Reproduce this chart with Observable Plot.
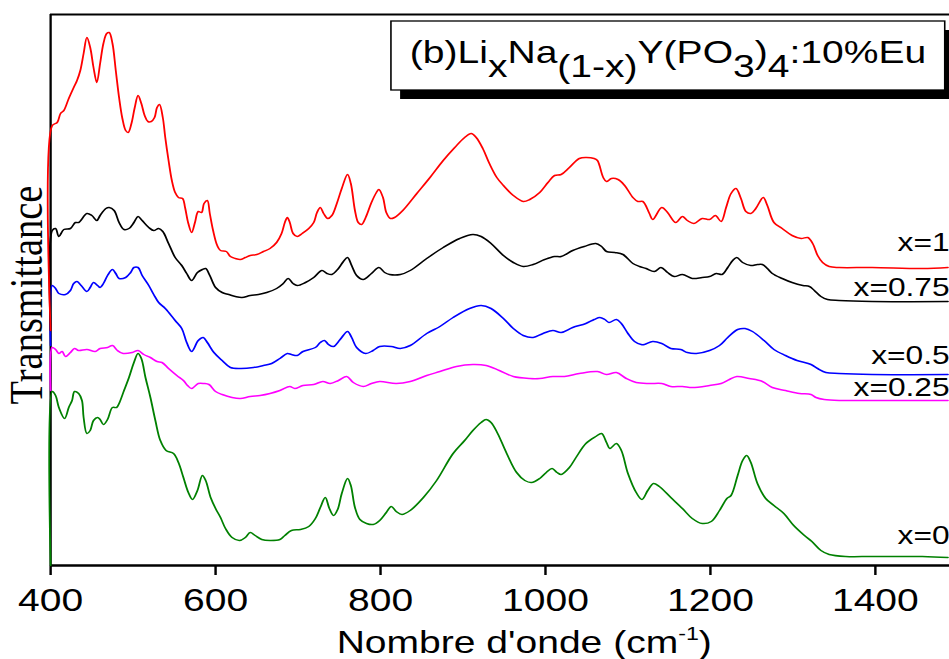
<!DOCTYPE html>
<html><head><meta charset="utf-8">
<script src="https://cdn.jsdelivr.net/npm/d3@7"></script>
<script src="https://cdn.jsdelivr.net/npm/@observablehq/plot@0.6"></script>
<style>html,body{margin:0;padding:0;background:#fff;} #chart{width:949px;height:659px;overflow:hidden;}</style>
</head><body><div id="chart"></div>
<script>
// Wavenumbers (cm^-1) and transmittance (arbitrary units)
const wnX1 = [400,402,408,412,416,422,428,432,436,440,444,448,452,456,460,464,468,471,475,479,483,487,491,494,498,502,506,510,514,518,522,526,529,532,536,539,543,547,551,555,560,563,567,571,575,579,583,586,590,593,597,602,606,613,618,624,630,636,642,650,658,666,674,680,684,687,690,694,699,705,713,719,723,727,731,736,741,747,753,760,764,769,773,777,782,789,795,798,803,807,812,817,827,844,860,876,890,902,910,916,924,932,941,949,961,973,981,993,1003,1011,1019,1029,1041,1049,1059,1063,1070,1074,1080,1088,1096,1106,1112,1118,1126,1130,1141,1148,1158,1166,1172,1180,1190,1199,1206,1213,1219,1225,1231,1237,1243,1249,1255,1264,1269,1277,1287,1299,1310,1318,1324,1330,1336,1344,1356,1396,1457,1488];
const tX1 = [235,440,443,452,455,467,478,485,495,512,528,518,498,483,502,522,532,533,522,495,468,447,435,433,442,458,470,462,450,444,444,448,458,461,448,428,405,385,373,368,367,358,342,333,343,354,353,362,365,352,335,320,315,314,309,307,306,308,310,311,314,317,323,332,343,348,343,332,329,332,337,343,353,358,352,347,350,362,377,391,382,355,343,341,348,363,373,376,368,353,347,348,355,372,388,405,418,428,432,428,417,402,388,380,370,364,366,373,383,390,391,398,407,408,407,405,388,384,387,386,380,368,364,364,352,346,358,353,343,349,345,342,347,346,350,344,358,372,377,367,354,352,357,368,360,343,337,330,327,328,322,310,303,299,298,298,297,298];

const wnX075 = [400,402,406,410,416,424,430,434,444,450,456,460,467,471,477,483,489,495,501,506,511,519,525,531,536,543,551,559,565,571,578,584,588,593,600,608,616,624,632,642,652,662,674,682,688,694,699,709,719,729,735,741,749,755,760,765,771,779,789,798,805,811,824,836,856,876,896,912,922,934,949,961,973,985,999,1011,1019,1033,1047,1061,1068,1074,1084,1094,1106,1114,1122,1132,1140,1148,1156,1166,1178,1190,1199,1207,1214,1221,1227,1232,1239,1249,1257,1263,1269,1275,1287,1299,1312,1320,1326,1334,1342,1356,1396,1488];
const tX075 = [235,335,337,329,336,337,343,343,352,350,345,350,357,358,355,343,336,337,343,349,345,338,335,337,334,322,308,300,292,285,293,296,297,290,278,273,271,269,268,270,271,273,277,282,287,282,280,283,288,295,292,291,297,304,308,300,290,286,292,298,293,291,291,295,307,318,327,331,329,322,310,303,299,301,306,309,309,315,319,322,319,314,313,311,302,299,297,294,298,293,289,291,287,288,289,292,291,298,305,308,303,300,301,301,297,292,287,283,280,279,275,269,266,265,264,264];

const wnX05 = [400,402,406,410,418,424,428,432,437,444,448,452,457,460,464,469,475,479,483,491,497,501,506,511,519,525,531,539,551,559,565,571,579,585,590,598,608,618,630,646,658,668,678,687,692,699,706,721,727,732,737,743,751,760,765,771,782,791,799,813,824,836,856,872,888,908,922,934,949,961,973,985,997,1009,1019,1033,1049,1059,1066,1072,1077,1086,1092,1100,1108,1116,1120,1130,1141,1152,1164,1172,1183,1199,1211,1221,1233,1242,1251,1265,1277,1291,1305,1322,1330,1340,1356,1396,1488];
const tX05 = [220,280,277,272,271,275,282,284,280,274,278,283,280,278,282,290,296,292,287,288,293,298,298,290,280,271,263,257,245,237,223,214,225,228,223,213,205,198,197,198,200,202,207,212,211,210,214,218,223,225,221,219,226,234,228,218,212,215,219,219,217,220,232,239,248,257,260,257,247,237,230,228,232,235,233,238,242,246,248,246,243,246,242,232,224,221,221,224,222,217,216,213,212,215,220,228,236,237,234,225,216,210,205,201,197,193,192,191,191];

const wnX025 = [400,402,406,410,414,418,424,429,434,444,454,460,469,475,481,488,499,506,513,521,529,535,543,553,561,566,571,579,586,592,600,608,620,630,642,654,666,678,690,696,706,719,730,739,749,759,767,779,789,799,819,836,856,872,892,912,928,944,961,981,993,1009,1023,1041,1063,1074,1086,1098,1110,1126,1141,1152,1166,1178,1199,1213,1223,1232,1247,1263,1275,1291,1308,1322,1328,1338,1356,1396,1488];
const tX025 = [175,218,216,212,214,209,213,217,215,216,214,217,218,220,215,212,213,215,211,208,204,203,197,190,185,180,177,182,182,181,174,171,168,167,169,170,172,175,179,177,180,181,184,182,185,189,183,179,182,184,182,184,190,194,199,201,200,195,189,187,187,189,189,192,194,191,193,187,183,182,182,179,179,178,180,182,186,189,187,184,178,175,172,171,168,166,165,165,165];

const wnX0 = [400,402,406,410,417,422,426,429,434,438,440,444,448,452,457,460,464,469,475,480,483,489,495,501,506,510,515,521,527,533,540,549,555,561,567,572,578,584,588,594,600,606,612,620,629,636,642,648,656,666,678,684,692,703,713,721,727,733,738,743,748,753,760,764,769,775,783,791,799,807,813,819,826,836,852,868,888,902,912,922,928,934,942,953,965,975,983,993,1001,1008,1014,1019,1029,1037,1049,1061,1068,1074,1078,1086,1092,1100,1110,1117,1124,1131,1138,1152,1166,1178,1190,1201,1211,1220,1225,1233,1239,1244,1249,1257,1267,1277,1289,1301,1314,1323,1334,1344,1364,1396,1457,1488];
const tX0 = [0,174,170,158,147,158,165,174,172,165,148,132,135,145,148,146,141,146,158,158,162,175,188,203,212,207,188,168,145,125,115,112,103,88,73,66,75,90,85,68,57,48,37,28,25,28,33,30,26,25,26,30,35,36,39,47,58,68,57,50,56,72,87,80,58,46,42,41,45,53,59,54,51,55,68,85,112,125,135,143,146,143,132,112,93,85,83,87,93,97,93,91,98,108,122,129,132,123,117,122,115,92,73,66,75,82,79,68,57,47,42,44,55,67,70,90,105,110,103,82,67,60,52,40,30,24,15,11,9,9,9,8];

const seriesNames = ["x=0", "x=0.25", "x=0.5", "x=0.75", "x=1"];
const seriesColors = ["#008000", "#ff00ff", "#0000ff", "#000000", "#ff0000"];
const labelLevels = [22, 170, 202, 270, 315];
const xTicks = [400, 600, 800, 1000, 1200, 1400];
const xDomain = [400, 1490];
const yDomain = [0, 551];

const seriesWn = [wnX0, wnX025, wnX05, wnX075, wnX1];
const seriesT = [tX0, tX025, tX05, tX075, tX1];

const W = 778, H = 659, OUTW = 949;
const rows = seriesNames.map((name, k) => seriesWn[k].map((w, i) => ({series: name, wn: w, t: seriesT[k][i]})));
const labels = seriesNames.map((name, k) => ({name, level: labelLevels[k]}));

const plot = Plot.plot({
  width: W, height: H,
  marginLeft: 41, marginRight: 0, marginTop: 14, marginBottom: 94,
  style: {fontFamily: "'Liberation Sans', Arial, sans-serif", fontSize: "32px", background: "white", color: "black", overflow: "hidden"},
  x: {domain: xDomain},
  y: {domain: yDomain, axis: null},
  marks: [
    Plot.ruleY([yDomain[0]], {strokeWidth: 2.3}),
    Plot.ruleY([yDomain[1]], {strokeWidth: 2}),
    Plot.ruleX([xDomain[0]], {strokeWidth: 1.9}),
    Plot.axisX({ticks: xTicks, tickSize: 10, tickPadding: 13, strokeWidth: 2, fontSize: 32, label: null, tickFormat: d => String(d)}),
    ...rows.map((data, k) => Plot.line(data, {x: "wn", y: "t", stroke: seriesColors[k], strokeWidth: 1.5, curve: "catmull-rom"})),
    Plot.text(labels, {frameAnchor: "right", y: "level", text: "name", textAnchor: "end", lineAnchor: "bottom", fontSize: 26, fill: "black"})
  ]
});

const svg = d3.select(plot);
const SANS = "'Liberation Sans', Arial, sans-serif";
// Title box with shadow
const tg = svg.append("g");
tg.append("rect").attr("x", 328).attr("y", 30).attr("width", 454).attr("height", 69).attr("fill", "black");
tg.append("rect").attr("x", 320.5).attr("y", 21).attr("width", 454).attr("height", 69).attr("fill", "white").attr("stroke", "black").attr("stroke-width", 1.3);
const tt = tg.append("text").attr("x", 336).attr("y", 63).attr("text-anchor", "start").attr("font-size", 32).attr("font-family", SANS).attr("fill", "black");
const parts = [["(b)Li", 0], ["x", 1], ["Na", 0], ["(1-x)", 1], ["Y(PO", 0], ["3", 1], [")", 0], ["4", 1], [":10%Eu", 0]];
let prev = 0;
parts.forEach(([s, sub]) => {
  tt.append("tspan").attr("dy", (sub - prev) * 14).text(s);
  prev = sub;
});
// X axis label
const xl = svg.append("text").attr("x", 276).attr("y", 653).attr("text-anchor", "start").attr("font-size", 32).attr("font-family", SANS).attr("fill", "black");
xl.append("tspan").text("Nombre d'onde (cm");
xl.append("tspan").attr("font-size", 19).attr("dy", -13).text("-1");
xl.append("tspan").attr("dy", 13).text(")");
// Y axis label
svg.append("text").attr("transform", "translate(34.4,295) rotate(-90)").attr("text-anchor", "middle")
  .attr("font-size", 38.5).attr("font-family", "'Liberation Serif', 'Times New Roman', serif").attr("fill", "black").text("Transmittance");

// The original figure is stretched horizontally; reproduce by non-uniform scaling
plot.setAttribute("width", OUTW);
plot.setAttribute("height", H);
plot.setAttribute("preserveAspectRatio", "none");
plot.style.width = OUTW + "px";
plot.style.height = H + "px";
plot.style.maxWidth = "none";
document.getElementById("chart").appendChild(plot);
</script>
</body></html>
